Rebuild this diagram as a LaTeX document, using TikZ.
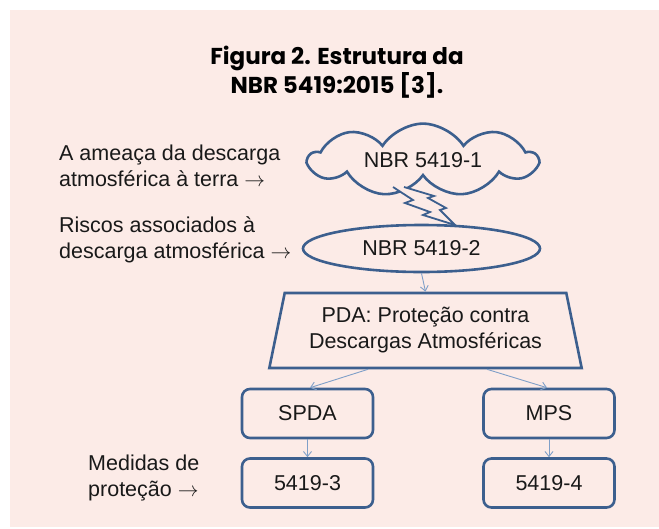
\documentclass[tikz,border=0pt]{standalone}
\usepackage{fontspec}
\setmainfont{Liberation Sans}
\newfontfamily\titlefont{Poppins}
\usetikzlibrary{shapes.geometric,shapes.symbols,arrows.meta}
\definecolor{bgpink}{HTML}{FCEBE7}
\definecolor{edgeblue}{HTML}{3C5F8E}
\definecolor{linkblue}{HTML}{7F9FC8}
\begin{document}
\begin{tikzpicture}[x=1pt,y=-1pt,
  outline/.style={draw=edgeblue,line width=2.6pt},
  txt/.style={font=\fontsize{21.5}{26}\selectfont,text=black!90},
  stdbox/.style={outline,txt,rounded corners=8pt,minimum width=131pt,minimum height=49pt,inner sep=0pt},
  link/.style={draw=linkblue,line width=0.9pt,-{Straight Barb[length=5pt,width=8pt]}}]
\useasboundingbox (0,0) rectangle (659,528);
\fill[bgpink] (10,10) rectangle (659,527);
\node[font=\titlefont\bfseries\fontsize{23}{29}\selectfont,align=center] (title) at (337,72.5) {Figura 2. Estrutura da\\NBR 5419:2015 [3].};
\node[txt,anchor=west,align=left,inner sep=0pt] (threat) at (59,166) {A ameaça da descarga\\atmosférica à terra $\rightarrow$};
\node[txt,anchor=west,align=left,inner sep=0pt] (risk) at (59,239.5) {Riscos associados à\\descarga atmosférica $\rightarrow$};
\node[txt,anchor=west,align=left,inner sep=0pt] (measures) at (88,477.5) {Medidas de\\proteção $\rightarrow$};
\node[cloud,cloud puffs=9,cloud puff arc=115,aspect=3.8,outline,fill=bgpink,txt,minimum width=228pt,minimum height=58pt,inner sep=0pt] (std1) at (423,160) {NBR 5419-1};
\node[ellipse,outline,txt,minimum width=237pt,minimum height=47pt,inner sep=0pt] (std2) at (421.5,248.5) {NBR 5419-2};
\filldraw[fill=bgpink,draw=edgeblue,line width=1.8pt,line join=miter]
  (393,187) -- (413,200) -- (405,203) -- (430,212) -- (423,215) -- (455,225)
  -- (440,210) -- (446,208) -- (428,198) -- (434,196) -- (404,187);
\node[trapezium,trapezium left angle=76,trapezium right angle=76,trapezium stretches=true,outline,txt,align=center,minimum width=313pt,minimum height=75pt] (pda) at (425.5,330.5) {PDA: Proteção contra\\Descargas Atmosféricas};
\node[stdbox] (spda) at (307.5,413.5) {SPDA};
\node[stdbox] (mps) at (549,413.5) {MPS};
\node[stdbox] (std3) at (307.5,483) {5419-3};
\node[stdbox] (std4) at (549,483) {5419-4};
\draw[link] (std2.south) -- (pda.north);
\draw[link] ([xshift=-57.5pt]pda.south) -- ([xshift=2.5pt]spda.north);
\draw[link] ([xshift=61.5pt]pda.south) -- ([xshift=-2pt]mps.north);
\draw[link] (spda.south) -- (std3.north);
\draw[link] (mps.south) -- (std4.north);
\end{tikzpicture}
\end{document}
